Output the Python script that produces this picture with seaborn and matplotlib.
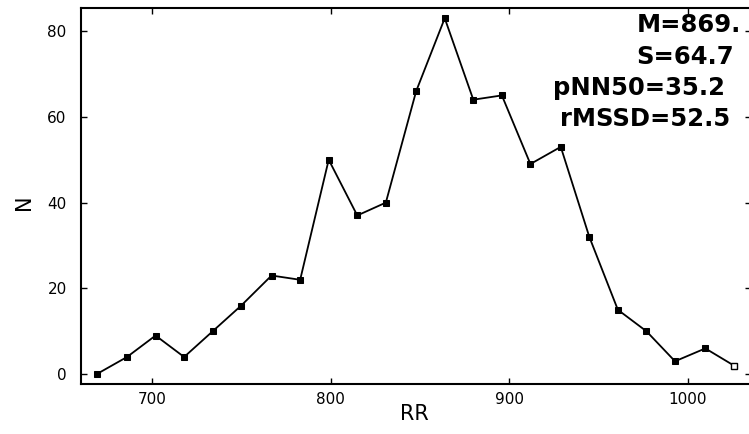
import matplotlib
matplotlib.use("Agg")
import matplotlib.pyplot as plt
import seaborn as sns
import pandas as pd

# RR-interval histogram (bin centres, ms) and counts per bin
rr_bins = [669, 686, 702, 718, 734, 750, 767, 783, 799, 815, 831, 848,
           864, 880, 896, 912, 929, 945, 961, 977, 993, 1010, 1026]
counts = [0, 4, 9, 4, 10, 16, 23, 22, 50, 37, 40, 66,
          83, 64, 65, 49, 53, 32, 15, 10, 3, 6, 2]

x_ticks = [700, 800, 900, 1000]
y_ticks = [0, 20, 40, 60, 80]

stats_lines = ["M=869.", "S=64.7", "pNN50=35.2", "rMSSD=52.5"]

df = pd.DataFrame({"RR": rr_bins, "N": counts})

sns.set_style("ticks")
plt.rcParams["font.family"] = ["DejaVu Sans"]
plt.rcParams["text.color"] = "black"

W, H = 749, 434
fig = plt.figure(figsize=(W / 100, H / 100), dpi=100)
fig.patch.set_facecolor("white")

# axes placed in pixel terms; the right spine sits just past the canvas
left_px, top_px, bottom_px = 80.6, 7.5, 384.0
x_lo, x_hi = 660, 1035.5
px_per_unit = 1.785
right_px = left_px + (x_hi - x_lo) * px_per_unit
ax = fig.add_axes([left_px / W, 1 - bottom_px / H,
                   (right_px - left_px) / W, (bottom_px - top_px) / H])
ax.set_facecolor("white")

sns.lineplot(data=df, x="RR", y="N", ax=ax, color="black", linewidth=1.3,
             marker="s", markersize=4, markeredgecolor="black",
             markerfacecolor="black")
# last bin drawn as an open square
ax.plot(df["RR"].iloc[-1:], df["N"].iloc[-1:], linestyle="none", marker="s",
        markersize=4, markerfacecolor="white", markeredgecolor="black",
        markeredgewidth=1.0, zorder=5)

ax.set_xlim(x_lo, x_hi)
ax.set_ylim(-2.3, 85.5)
ax.set_xticks(x_ticks)
ax.set_yticks(y_ticks)
ax.tick_params(direction="in", length=4, width=1.0, labelsize=11,
               top=True, right=True, colors="black", labelcolor="black")
ax.tick_params(axis="x", pad=6)
ax.tick_params(axis="y", pad=10)
for s in ax.spines.values():
    s.set_visible(True)
    s.set_linewidth(1.5)
    s.set_color("black")

ax.set_xlabel("")
ax.set_ylabel("")
fig.text(414 / W, 1 - 414 / H, "RR", fontsize=15, ha="center", va="center",
         color="black")
fig.text(24 / W, 1 - 202 / H, "N", fontsize=15, ha="center", va="center",
         rotation=90, color="black")

# summary statistics block
text_x = [637, 636, 553, 560]
text_base = [31.5, 63.5, 94.5, 126.0]
for tx, ty, label in zip(text_x, text_base, stats_lines):
    fig.text(tx / W, 1 - ty / H, label, fontsize=17.5, fontweight="bold",
             ha="left", va="baseline", color="black")

fig.savefig("out.png", dpi=100, facecolor="white")
